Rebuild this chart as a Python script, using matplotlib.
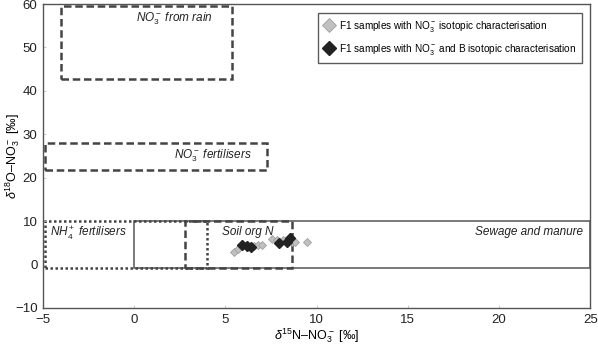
import matplotlib
matplotlib.use("Agg")
import matplotlib.pyplot as plt
from matplotlib.patches import Rectangle

plt.rcParams['font.family'] = ['Liberation Sans', 'DejaVu Sans']
plt.rcParams['mathtext.fontset'] = 'custom'
plt.rcParams['mathtext.rm'] = 'Liberation Sans'
plt.rcParams['mathtext.it'] = 'Liberation Sans:italic'

# ============================================================
# DATA
# ============================================================

# F1 samples, NO3- isotopes only (grey diamonds)
grey_x = [5.49, 5.71, 6.54, 6.76, 7.03, 7.55, 7.82, 8.18, 8.64, 8.82, 9.46]
grey_y = [3.0, 3.6, 4.2, 4.6, 4.4, 6.0, 5.7, 5.6, 5.1, 5.3, 5.3]

# F1 samples, NO3- and B isotopes (black diamonds)
black_x = [5.93, 6.17, 6.39, 7.96, 8.37, 8.55]
black_y = [4.6, 4.2, 4.0, 5.0, 5.3, 6.1]

# source boxes: (x0, x1, y0, y1)
box_rain = (-4.0, 5.37, 42.7, 59.6)
box_no3_fert = (-4.9, 7.3, 21.7, 28.1)
box_nh4_fert = (-4.9, 4.0, -0.8, 10.0)
box_sewage = (0.0, 25.0, -0.8, 10.0)
box_soil = (2.8, 8.65, -0.8, 10.0)

x_ticks = [-5, 0, 5, 10, 15, 20, 25]
y_ticks = [-10, 0, 10, 20, 30, 40, 50, 60]


def draw_box(ax, b, **kw):
    x0, x1, y0, y1 = b
    ax.add_patch(Rectangle((x0, y0), x1 - x0, y1 - y0, fill=False, **kw))


fig = plt.figure(figsize=(5.98, 3.49), dpi=100)
ax = fig.add_axes([0.072, 0.1175, 0.915, 0.871])

draw_box(ax, box_sewage, edgecolor='#555555', lw=1.1, linestyle='-')
draw_box(ax, box_nh4_fert, edgecolor='#444444', lw=1.8, linestyle=(0, (1, 1)))
draw_box(ax, box_soil, edgecolor='#444444', lw=1.8, linestyle=(0, (3, 1.5)))
draw_box(ax, box_rain, edgecolor='#444444', lw=1.8, linestyle=(0, (3, 1.5)))
draw_box(ax, box_no3_fert, edgecolor='#444444', lw=1.8, linestyle=(0, (3, 1.5)))

ax.plot(grey_x, grey_y, 'D', color='#c0c0c0', mec='#a0a0a0', mew=0.6, ms=4.5,
        label=r'F1 samples with NO$_3^-$ isotopic characterisation', zorder=3)
ax.plot(black_x, black_y, 'D', color='#222222', mec='#222222', ms=5,
        label=r'F1 samples with NO$_3^-$ and B isotopic characterisation', zorder=4)

tkw = dict(style='italic', fontsize=8.5, color='#222222')
ax.text(4.3, 56.6, r'NO$_3^-$ from rain', ha='right', va='center', **tkw)
ax.text(6.45, 25.0, r'NO$_3^-$ fertilisers', ha='right', va='center', **tkw)
ax.text(-4.6, 7.2, r'NH$_4^+$ fertilisers', ha='left', va='center', **tkw)
ax.text(6.2, 7.6, 'Soil org N', ha='center', va='center', **tkw)
ax.text(24.6, 7.6, 'Sewage and manure', ha='right', va='center', **tkw)

ax.set_xlim(-5, 25)
ax.set_ylim(-10, 60)
ax.set_xticks(x_ticks)
ax.set_yticks(y_ticks)
ax.set_xticklabels([str(t) if t >= 0 else '\u2212' + str(-t) for t in x_ticks])
ax.set_yticklabels([str(t) if t >= 0 else '\u2212' + str(-t) for t in y_ticks])
ax.tick_params(direction='in', length=2, width=0.5, color='#bbbbbb',
               labelsize=9.5, labelcolor='#222222', pad=4)
for s in ax.spines.values():
    s.set_color('#555555')
    s.set_linewidth(1.0)

ax.set_xlabel(r'$\delta^{15}$N–NO$_3^-$ [‰]', fontsize=9)
ax.set_ylabel(r'$\delta^{18}$O–NO$_3^-$ [‰]', fontsize=9)
ax.xaxis.set_label_coords(0.5, -0.092, transform=ax.transAxes)
ax.yaxis.set_label_coords(-0.055, 0.5, transform=ax.transAxes)
ax.xaxis.label.set_va('center')
ax.yaxis.label.set_va('center')

leg = ax.legend(loc='upper right', bbox_to_anchor=(0.985, 0.972), fontsize=7.2,
                frameon=True, fancybox=False, edgecolor='#333333',
                handlelength=1.0, handletextpad=0.5, borderpad=0.6,
                labelspacing=0.8, markerscale=1.5, borderaxespad=0.0)
leg.get_frame().set_linewidth(1.0)

fig.savefig('out.png', dpi=100)
